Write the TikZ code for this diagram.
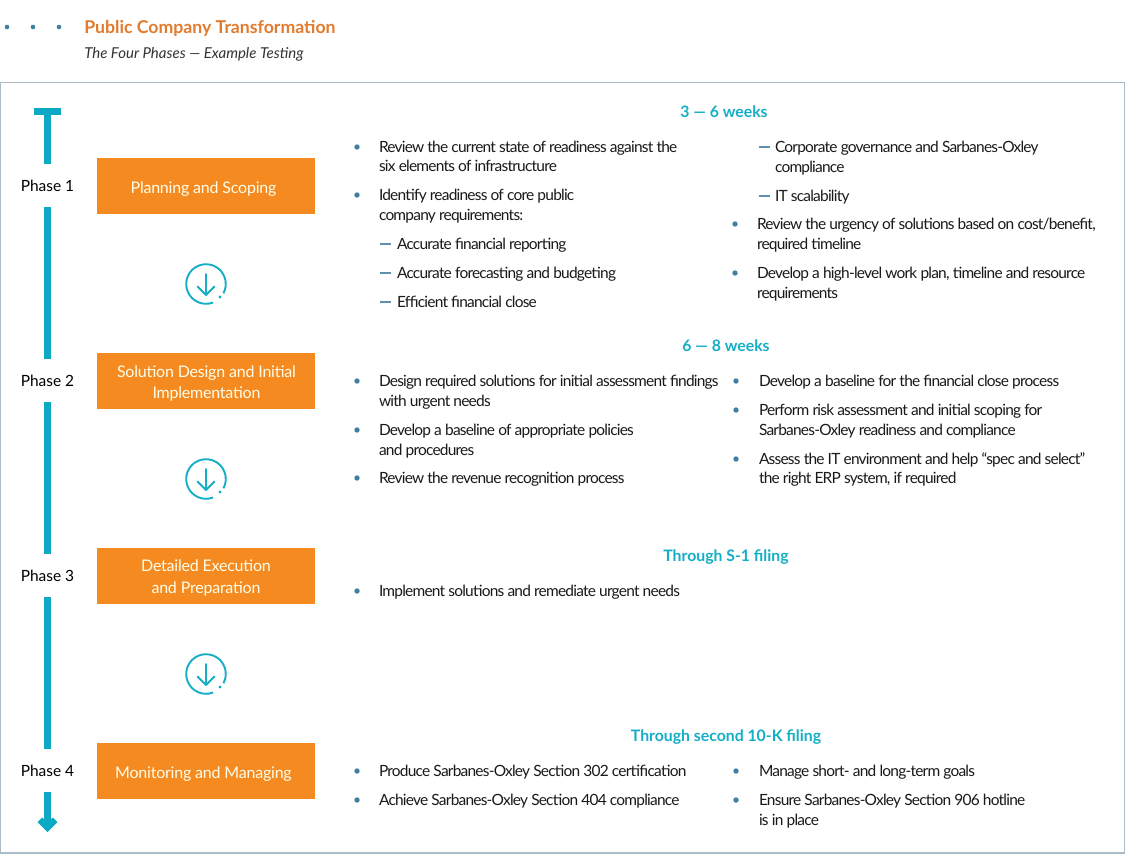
\documentclass[tikz,border=0pt]{standalone}
\usepackage{fontspec}
\setmainfont{Lato}
\newfontfamily\tightf[LetterSpace=-5.0]{Lato}
\newfontfamily\boxf[LetterSpace=-1.4]{Lato}
\usetikzlibrary{calc}
\definecolor{teal1}{HTML}{0BA9C4}
\definecolor{teal2}{HTML}{14AEC6}
\definecolor{orangebox}{HTML}{F58A20}
\definecolor{titleor}{HTML}{E27B2E}
\definecolor{dotblue}{HTML}{3F7F9F}
\definecolor{framec}{HTML}{A9BDC6}
\definecolor{bodyc}{HTML}{1A1A1A}
\tikzset{
  x=0.75pt,y=-0.75pt,
  body/.style={anchor=base west,inner sep=0,outer sep=0,text=bodyc,font=\fontsize{11.6pt}{13pt}\tightf},
  head/.style={anchor=base,inner sep=0,outer sep=0,text=teal2,font=\fontsize{11.85pt}{14pt}\selectfont\bfseries},
  phase/.style={inner sep=0,outer sep=0,minimum width=60*0.75pt,minimum height=43*0.75pt,text=black,font=\fontsize{11.6pt}{14pt}\selectfont},
  box/.style={fill=orangebox,inner sep=0,outer sep=0,minimum width=218*0.75pt,minimum height=56*0.75pt},
  boxtext/.style={inner sep=0,outer sep=0,text=white!92!yellow,align=center,font=\fontsize{12pt}{15.8pt}\boxf},
  bar/.style={draw=teal1,line width=6.5*0.75pt},
  ic/.style={draw=teal2,line width=1.9*0.75pt},
}
\newcommand{\bul}[2]{\fill[dotblue] (#1,#2) circle[radius=2.7];}
\newcommand{\dashm}[2]{\draw[dotblue!85,line width=0.8pt] (#1,#2) -- ++(11,0);}
\newcommand{\icon}[3]{%
  \coordinate (#1) at (#2,#3);
  \draw[ic] ($(#1)+(69:19.8)$) arc[start angle=69,end angle=388,radius=19.8];
  \draw[ic,line cap=round,line join=round] ($(#1)+(0,-10)$) -- ($(#1)+(0,11)$);
  \draw[ic,line cap=round,line join=round] ($(#1)+(-8.5,2.5)$) -- ($(#1)+(0,11)$) -- ($(#1)+(8.5,2.5)$);
  \fill[teal2] ($(#1)+(14,13)$) circle[radius=1.7];}
\begin{document}
\begin{tikzpicture}
\useasboundingbox (0,0) rectangle (1125,854);
\fill[white] (0,0) rectangle (1125,854);
% header
\foreach \i/\xx in {a/7,b/33,c/59} \fill[dotblue] (\xx,27) circle[radius=2.3];
\node[anchor=base west,inner sep=0,text=titleor,font=\fontsize{13.25pt}{16pt}\selectfont\bfseries] (title) at (84,33) {Public Company Transformation};
\node[anchor=base west,inner sep=0,text=black!80,font=\fontsize{11.25pt}{14pt}\selectfont\itshape] (subtitle) at (84,58) {The Four Phases — Example Testing};
\draw[framec,line width=1pt] (0.5,82.5) rectangle (1124.5,853);
% timeline
\node[phase] (p1) at (47.5,185.5) {Phase 1};
\node[phase] (p2) at (47.5,380.5) {Phase 2};
\node[phase] (p3) at (47.5,575.5) {Phase 3};
\node[phase] (p4) at (47.5,770.5) {Phase 4};
\coordinate (topc) at (47.5,111.5);
\coordinate (botc) at (47.5,823);
\draw[bar] (topc) -- (p1.north);
\draw[bar] (34,111.5) -- (61,111.5);
\draw[bar] (p1.south) -- (p2.north);
\draw[bar] (p2.south) -- (p3.north);
\draw[bar] (p3.south) -- (p4.north);
\draw[bar] (p4.south) -- (botc);
\fill[teal1] (37.5,822) -- (42,817.5) -- (47.5,822) -- (53,817.5) -- (57.5,822) -- (47.5,832) -- cycle;
% boxes
\node[box] (b1) at (206,186) {};
\node[box] (b2) at (206,381) {};
\node[box] (b3) at (206,576) {};
\node[box] (b4) at (206,771) {};
\node[boxtext] (bt1) at (203.5,189) {Planning and Scoping};
\node[boxtext] (bt2) at (206.5,383.5) {Solution Design and Initial\\Implementation};
\node[boxtext] (bt3) at (206,578) {Detailed Execution\\and Preparation};
\node[boxtext] (bt4) at (203.5,774) {Monitoring and Managing};
\icon{i1}{206}{284}
\icon{i2}{206}{479}
\icon{i3}{206}{674}
% headings
\node[head] (h1) at (724,117) {3 — 6 weeks};
\node[head] (h2) at (726,351) {6 — 8 weeks};
\node[head] (h3) at (726,561) {Through S-1 filing};
\node[head] (h4) at (726,741) {Through second 10-K filing};
% phase 1 left
\bul{357}{147}\node[body] (t1) at (379,152) {Review the current state of readiness against the};
\node[body] (t2) at (379,171.5) {six elements of infrastructure};
\bul{357}{195}\node[body] (t3) at (379,200.5) {Identify readiness of core public};
\node[body] (t4) at (379,220) {company requirements:};
\dashm{380}{244}\node[body] (t5) at (397,249) {Accurate financial reporting};
\dashm{380}{273}\node[body] (t6) at (397,278) {Accurate forecasting and budgeting};
\dashm{380}{302}\node[body] (t7) at (397,307) {Efficient financial close};
% phase 1 right
\dashm{759}{147}\node[body] (t8) at (775,152) {Corporate governance and Sarbanes-Oxley};
\node[body] (t9) at (775,172) {compliance};
\dashm{759}{196}\node[body] (t10) at (775,201) {IT scalability};
\bul{735}{224}\node[body] (t11) at (757,229.5) {Review the urgency of solutions based on cost/benefit,};
\node[body] (t12) at (757,249) {required timeline};
\bul{735}{273}\node[body] (t13) at (757,278) {Develop a high-level work plan, timeline and resource};
\node[body] (t14) at (757,298) {requirements};
% phase 2
\bul{357}{381}\node[body] (t15) at (379,386) {Design required solutions for initial assessment findings};
\node[body] (t16) at (379,406) {with urgent needs};
\bul{357}{430}\node[body] (t17) at (379,435) {Develop a baseline of appropriate policies};
\node[body] (t18) at (379,455) {and procedures};
\bul{357}{478}\node[body] (t19) at (379,483.5) {Review the revenue recognition process};
\bul{736}{381}\node[body] (t20) at (759,386) {Develop a baseline for the financial close process};
\bul{736}{410}\node[body] (t21) at (759,415) {Perform risk assessment and initial scoping for};
\node[body] (t22) at (759,435) {Sarbanes-Oxley readiness and compliance};
\bul{736}{459}\node[body] (t23) at (759,464) {Assess the IT environment and help “spec and select”};
\node[body] (t24) at (759,483.5) {the right ERP system, if required};
% phase 3
\bul{357}{591}\node[body] (t25) at (379,596) {Implement solutions and remediate urgent needs};
% phase 4
\bul{357}{771}\node[body] (t26) at (379,776) {Produce Sarbanes-Oxley Section 302 certification};
\bul{357}{800}\node[body] (t27) at (379,805) {Achieve Sarbanes-Oxley Section 404 compliance};
\bul{736}{771}\node[body] (t28) at (759,776) {Manage short- and long-term goals};
\bul{736}{800}\node[body] (t29) at (759,805) {Ensure Sarbanes-Oxley Section 906 hotline};
\node[body] (t30) at (759,825) {is in place};
\end{tikzpicture}
\end{document}
